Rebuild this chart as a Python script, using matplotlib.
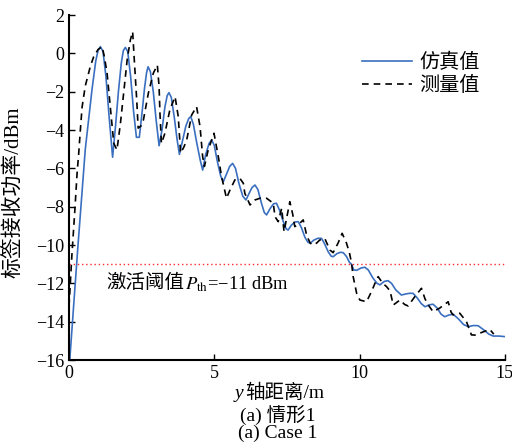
import matplotlib
matplotlib.use("Agg")
import matplotlib.pyplot as plt

plt.rcParams['font.family'] = ['Liberation Serif', 'Noto Sans CJK SC']
plt.rcParams['mathtext.fontset'] = 'stix'
plt.rcParams['axes.unicode_minus'] = True

# simulated (blue)
sim_x = [0.03, 0.30, 0.56, 0.79, 0.92, 1.00, 1.08, 1.17, 1.27, 1.38, 1.50, 1.60, 1.70, 1.80, 1.87, 1.94,
         2.02, 2.12, 2.22, 2.32, 2.42, 2.52, 2.60, 2.67, 2.72, 2.80, 2.90, 3.00, 3.10, 3.20, 3.30, 3.38,
         3.44, 3.52, 3.62, 3.72, 3.80, 3.90, 4.02, 4.12, 4.19, 4.28, 4.40, 4.52, 4.60, 4.70, 4.82, 4.91,
         5.00, 5.10, 5.22, 5.31, 5.42, 5.53, 5.63, 5.73, 5.85, 5.98, 6.09, 6.20, 6.30, 6.40, 6.50, 6.62,
         6.72, 6.80, 6.92, 7.04, 7.14, 7.25, 7.38, 7.47, 7.54, 7.66, 7.78, 7.89, 8.00, 8.12, 8.22, 8.30,
         8.42, 8.56, 8.69, 8.80, 8.92, 9.02, 9.09, 9.22, 9.34, 9.44, 9.55, 9.65, 9.72, 9.80, 9.90, 10.05,
         10.18, 10.30, 10.45, 10.60, 10.70, 10.85, 10.98, 11.10, 11.25, 11.44, 11.60, 11.72, 11.84, 11.98,
         12.12, 12.25, 12.40, 12.53, 12.68, 12.80, 12.93, 13.08, 13.22, 13.40, 13.58, 13.74, 13.92, 14.08,
         14.25, 14.45, 14.60, 14.80, 15.00]
sim_y = [-15.9, -10.2, -5.0, -1.9, -0.4, 0.15, 0.35, 0.1, -1.2, -3.3, -5.42, -3.8, -2.0, -0.5, 0.15, 0.31,
         0.1, -1.2, -3.0, -4.38, -4.38, -3.0, -1.8, -1.0, -0.70, -0.95, -2.0, -3.5, -4.82, -4.0, -2.8, -2.2,
         -2.05, -2.3, -3.3, -4.5, -5.27, -4.6, -3.8, -3.4, -3.30, -3.7, -4.7, -5.6, -6.09, -5.3, -4.7, -4.52,
         -4.8, -5.6, -6.4, -6.7, -6.3, -5.9, -5.74, -6.0, -6.8, -7.45, -7.65, -7.3, -7.0, -6.87, -7.1, -7.8,
         -8.3, -8.43, -8.1, -7.85, -7.82, -8.2, -8.8, -9.15, -9.22, -8.95, -8.8, -8.78, -9.1, -9.6, -9.85, -9.91,
         -9.75, -9.65, -9.65, -9.95, -10.35, -10.58, -10.61, -10.45, -10.38, -10.40, -10.6, -10.9, -11.0, -11.3, -11.32, -11.2,
         -11.16, -11.3, -11.7, -12.0, -12.08, -11.9, -11.86, -12.0, -12.35, -12.61, -12.55, -12.52, -12.52, -12.75,
         -13.05, -13.22, -13.12, -13.09, -13.3, -13.6, -13.74, -13.65, -13.61, -13.85, -14.15, -14.26, -14.2, -14.21,
         -14.4, -14.65, -14.75, -14.75, -14.78]

# measured (black dashed)
meas_x = [0.00, 0.10, 0.20, 0.28, 0.33, 0.39, 0.45, 0.56, 0.73, 0.85, 1.00, 1.14, 1.22, 1.31, 1.42, 1.54,
          1.65, 1.77, 1.88, 2.00, 2.11, 2.19, 2.24, 2.33, 2.38, 2.47, 2.56, 2.73, 2.90, 3.04, 3.10, 3.13,
          3.18, 3.30, 3.47, 3.65, 3.76, 3.84, 3.95, 4.05, 4.22, 4.39, 4.51, 4.60, 4.66, 4.79, 4.99, 5.14,
          5.25, 5.42, 5.54, 5.71, 5.88, 6.00, 6.05, 6.23, 6.40, 6.57, 6.80, 7.03, 7.09, 7.20, 7.32, 7.40,
          7.49, 7.60, 7.70, 7.77, 7.92, 8.06, 8.18, 8.30, 8.40, 8.52, 8.63, 8.80, 8.98, 9.09, 9.26, 9.40,
          9.55, 9.65, 9.72, 9.78, 9.90, 10.01, 10.24, 10.41, 10.53, 10.64, 10.80, 10.93, 11.05, 11.16, 11.39, 11.55,
          11.67, 11.90, 12.13, 12.25, 12.35, 12.53, 12.75, 13.05, 13.15, 13.22, 13.45, 13.68, 13.85, 14.00,
          14.14, 14.48, 14.62]
meas_y = [-13.2, -10.5, -8.2, -6.2, -5.3, -4.0, -2.8, -1.7, -0.7, -0.17, 0.2, 0.35, -0.2, -1.04, -2.78, -4.69,
          -5.04, -3.65, -2.08, -0.35, 0.70, 1.13, -0.17, -2.43, -3.9, -3.8, -3.48, -2.08, -1.04, -0.61, -1.74, -3.13,
          -4.7, -4.17, -2.95, -2.26, -3.30, -5.2, -4.9, -4.52, -3.22, -2.78, -3.83, -5.39, -5.9, -5.04, -4.17, -5.4,
          -6.43, -7.56, -7.13, -6.6, -6.52, -6.78, -7.3, -7.91, -7.65, -7.56, -7.56, -7.82, -8.52, -8.78, -8.08, -9.3,
          -8.6, -7.74, -8.4, -9.04, -8.9, -8.69, -9.5, -9.9, -10.0, -9.9, -9.74, -9.65, -10.26, -10.4, -9.9, -9.39,
          -9.9, -10.4, -10.9, -11.65, -12.52, -12.87, -12.96, -12.43, -12.0, -11.65, -12.0, -12.17, -12.4, -13.13, -12.87, -13.1,
          -13.18, -12.7, -12.26, -12.8, -13.1, -13.48, -13.3, -12.96, -13.5, -13.65, -13.56, -14.0, -14.69, -14.7,
          -14.6, -14.4, -14.65]

threshold = -11
x_ticks = [0, 5, 10, 15]
y_ticks = [-16, -14, -12, -10, -8, -6, -4, -2, 0, 2]
legend_labels = ['仿真值', '测量值']

fig = plt.figure(figsize=(5.12, 4.42), dpi=100)
ax = fig.add_axes([0.1348, 0.1855, 0.8512, 0.7805])

ax.plot(sim_x, sim_y, color='#3a6fc0', lw=1.2, label=legend_labels[0])
ax.plot(meas_x, meas_y, color='black', lw=1.2, dashes=(4, 3), label=legend_labels[1])
ax.axhline(threshold, color='#ff2a2a', lw=1.0, ls=(0, (1, 2)))

# threshold annotation: Chinese part + math part
t1 = ax.text(1.3, -12.0, '激活阈值', fontsize=14, va='center', ha='left')
ax.annotate('$P_{\\mathrm{th}}$=−11 dBm', xy=(1, 0.5), xycoords=t1, fontsize=13.3,
            va='center', ha='left', xytext=(0, -1), textcoords='offset points')

ax.set_xlim(0, 15)
ax.set_ylim(-16, 2)
ax.set_xticks(x_ticks)
ax.set_yticks(y_ticks)
ax.tick_params(direction='in', length=4, width=1, labelsize=13)
for s in ['top', 'right']:
    ax.spines[s].set_visible(False)
for s in ['left', 'bottom']:
    ax.spines[s].set_linewidth(1.5)

ax.set_ylabel('标签接收功率/dBm', fontsize=15)
ax.yaxis.set_label_coords(-0.103, 0.485)

# x label lines
ty = fig.text(0.459, 1 - 393 / 442, 'y', fontsize=14, style='italic', ha='left', va='center')
ax.annotate('轴距离/m', xy=(1, 0.5), xycoords=ty, fontsize=14, va='center', ha='left',
            xytext=(1, 0), textcoords='offset points')
fig.text(0.543, 1 - 415 / 442, '(a) 情形1', fontsize=14, ha='center', va='center')
fig.text(0.543, 1 - 433 / 442, '(a) Case 1', fontsize=14, ha='center', va='center')

leg = ax.legend(loc='upper left', bbox_to_anchor=(0.672, 0.887), frameon=False, fontsize=14.5,
                handlelength=2.5, handletextpad=0.35, labelspacing=0.2, borderpad=0, borderaxespad=0)

fig.savefig('out.png', dpi=100)
